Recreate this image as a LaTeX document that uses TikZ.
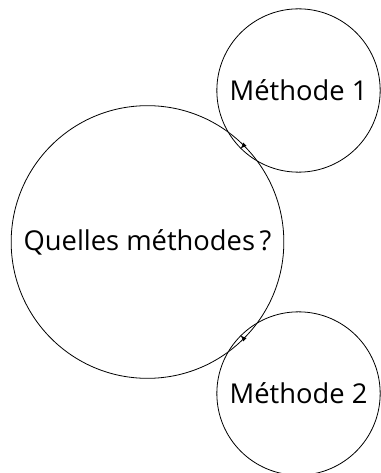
\documentclass[tikz,border=0pt]{standalone}
\usepackage{fontspec}
\setmainfont{Open Sans}

\tikzset{bubble/.style = {circle, draw, line width = 0.6pt, inner sep = 0pt, font = \fontsize{20.5}{24}\selectfont}}

\begin{document}
\begin{tikzpicture}[> = latex, x = 0.75pt, y = -0.75pt]

	% Frame
	
	\useasboundingbox (0, 0) rectangle (380, 473);
	
	% Bubbles
	
	\node [bubble, minimum size = 204.5pt] (quelles) at (147.5, 242) {Quelles méthodes\,?};
	\node [bubble, minimum size = 122.5pt] (methodeA) at (298.5, 90.5) {Méthode 1};
	\node [bubble, minimum size = 122.5pt] (methodeB) at (298.5, 393.5) {Méthode 2};
	
	% Links
	
	\draw [->, line width = 0.6pt] (quelles) -- (methodeA);
	\draw [->, line width = 0.6pt] (quelles) -- (methodeB);

\end{tikzpicture}
\end{document}
